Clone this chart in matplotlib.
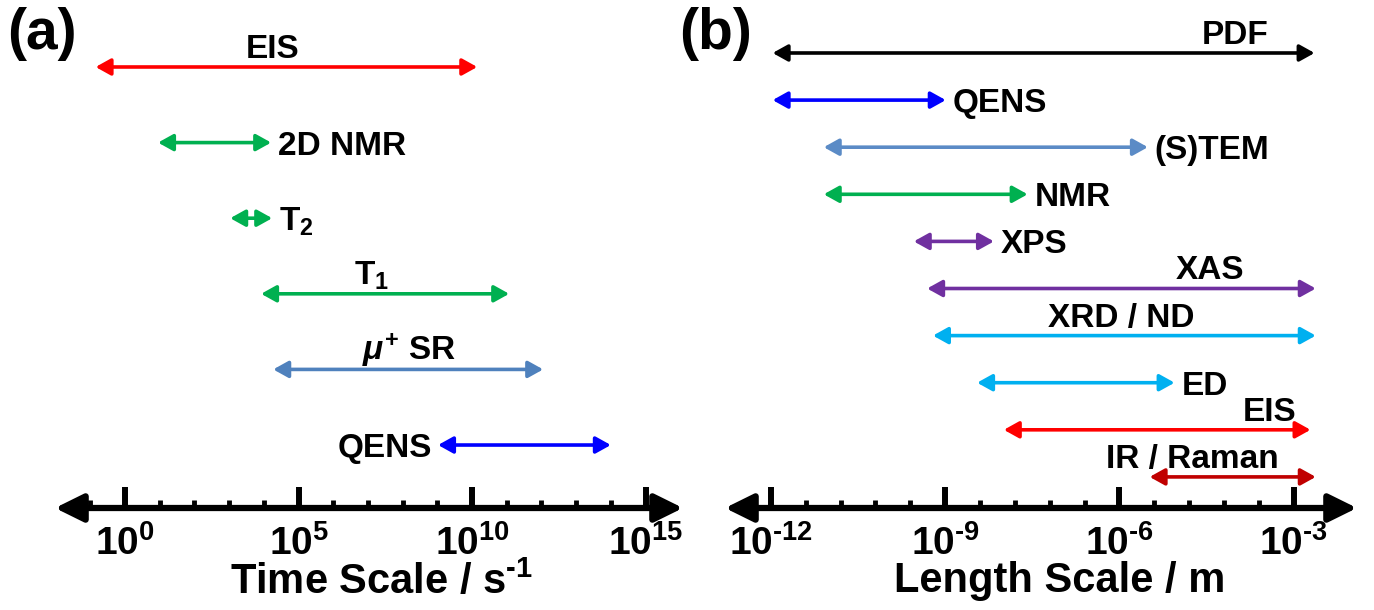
import numpy as np
import matplotlib
matplotlib.use("Agg")
import matplotlib.pyplot as plt
from matplotlib.ticker import FixedLocator, NullFormatter

plt.rcParams['font.family'] = ['Liberation Sans', 'DejaVu Sans']
plt.rcParams['font.weight'] = 'bold'
plt.rcParams['mathtext.fontset'] = 'custom'
plt.rcParams['mathtext.rm'] = 'Liberation Sans:bold'
plt.rcParams['mathtext.bf'] = 'Liberation Sans:bold'
plt.rcParams['mathtext.it'] = 'Liberation Sans:bold:italic'
plt.rcParams['mathtext.sf'] = 'Liberation Sans:bold'

# (a) time scale, s^-1 (exponents of 10)
time_names = ['EIS', '2D NMR', r'T$_2$', r'T$_1$', r'$\mathit{\mu}^{+}$ SR', 'QENS']
time_lo = [-0.85, 0.95, 3.03, 3.92, 4.27, 9.02]
time_hi = [10.15, 4.21, 4.24, 11.07, 12.05, 14.0]
time_colors = ['#FF0000', '#00B050', '#00B050', '#00B050', '#4F81BD', '#0000FF']
time_major = [0, 5, 10, 15]
time_minor = [-1, 1, 2, 3, 4, 6, 7, 8, 9, 11, 12, 13, 14]

# (b) length scale, m (exponents of 10)
len_names = ['PDF', 'QENS', '(S)TEM', 'NMR', 'XPS', 'XAS', 'XRD / ND', 'ED', 'EIS',
             'IR / Raman']
len_lo = [-11.97, -11.97, -11.09, -11.09, -9.54, -9.31, -9.21, -8.45, -7.99, -5.48]
len_hi = [-2.64, -8.99, -5.51, -7.58, -8.16, -2.62, -2.62, -5.05, -2.71, -2.62]
len_colors = ['#000000', '#0000FF', '#5B8BC6', '#00B050', '#7030A0', '#7030A0',
              '#00B0F0', '#00B0F0', '#FF0000', '#C00000']
len_major = [-12, -9, -6, -3]
len_minor = [-11.4, -10.8, -10.2, -9.6, -8.4, -7.8, -7.2, -6.6, -5.4, -4.8, -4.2,
             -3.6, -2.4]

# label placement: ('above', x) / ('right', None) / ('left', None)
time_place = [('above', 4.24), ('right', None), ('right', None), ('above', 7.1),
              ('above', 8.18), ('left', None)]
len_place = [('above', -4.01), ('right', None), ('right', None), ('right', None),
             ('right', None), ('above', -4.44), ('above', -5.96), ('right', None),
             ('above', -3.41), ('above', -4.74)]

W, H = 1374, 610
fig = plt.figure(figsize=(W / 100, H / 100), dpi=100)


def sup_label(e):
    s = str(e).replace('-', r'\text{-}')
    return r'$10^{%s}$' % s


def make_panel(rect, xlim, names, lo, hi, colors, place, major, minor, row_bottom,
               row_top, xlabel, label_x):
    ax = fig.add_axes(rect)
    ax.set_xscale('log')
    ax.set_xlim(10.0 ** xlim[0], 10.0 ** xlim[1])
    ax.set_ylim(row_bottom, row_top)
    for s in ['top', 'right', 'left', 'bottom']:
        ax.spines[s].set_visible(False)
    ax.set_yticks([])
    ax.xaxis.set_major_locator(FixedLocator([10.0 ** m for m in major]))
    ax.xaxis.set_minor_locator(FixedLocator([10.0 ** m for m in minor]))
    ax.set_xticklabels([sup_label(m) for m in major])
    ax.xaxis.set_minor_formatter(NullFormatter())
    ax.tick_params(axis='x', which='major', direction='in', length=15, width=4.3,
                   labelsize=28, pad=12)
    ax.tick_params(axis='x', which='minor', direction='in', length=6, width=3.5)
    # axis arrow
    ax.annotate('', xy=(1, 0), xytext=(0, 0), xycoords='axes fraction',
                textcoords='axes fraction',
                arrowprops=dict(arrowstyle='<|-|>,head_length=0.85,head_width=0.42',
                                mutation_scale=20, lw=4.5, color='black',
                                shrinkA=0, shrinkB=0))
    for i, (n, a, b, c, p) in enumerate(zip(names, lo, hi, colors, place)):
        ax.annotate('', xy=(10.0 ** b, i), xytext=(10.0 ** a, i),
                    arrowprops=dict(arrowstyle='<|-|>,head_length=0.9,head_width=0.5',
                                    mutation_scale=10, lw=2.6, color=c,
                                    shrinkA=0, shrinkB=0))
        if p[0] == 'above':
            ax.annotate(n, xy=(10.0 ** p[1], i), xytext=(0, 6.5),
                        textcoords='offset points', ha='center', va='baseline',
                        fontsize=24, fontweight='bold')
        elif p[0] == 'right':
            ax.annotate(n, xy=(10.0 ** b, i), xytext=(5, 0),
                        textcoords='offset points', ha='left', va='center_baseline',
                        fontsize=24, fontweight='bold')
        else:
            ax.annotate(n, xy=(10.0 ** a, i), xytext=(-4.5, 0),
                        textcoords='offset points', ha='right', va='center_baseline',
                        fontsize=24, fontweight='bold')
    ax.set_xlabel(xlabel, fontsize=30, fontweight='bold')
    ax.xaxis.set_label_coords(label_x, -0.105)
    return ax


# panel (a): axis from x=55 to 683 px, baseline at y=508 px
bot = (H - 508) / H
ax_a = make_panel([55 / W, bot, 628 / W, 1 - bot], (-2.02, 16.08),
                  time_names, time_lo, time_hi, time_colors, time_place,
                  time_major, time_minor, 5.833, -0.886,
                  r'Time Scale / s$^{\text{-}1}$', 0.52)
ax_b = make_panel([725 / W, bot, 632 / W, 1 - bot], (-12.79, -1.91),
                  len_names, len_lo, len_hi, len_colors, len_place,
                  len_major, len_minor, 9.66, -1.125, 'Length Scale / m', 0.53)

fig.text(7 / W, 1 - 34 / H, '(a)', fontsize=41, fontweight='bold', va='center', ha='left')
fig.text(679 / W, 1 - 34 / H, '(b)', fontsize=41, fontweight='bold', va='center', ha='left')

fig.savefig('out.png', dpi=100)
